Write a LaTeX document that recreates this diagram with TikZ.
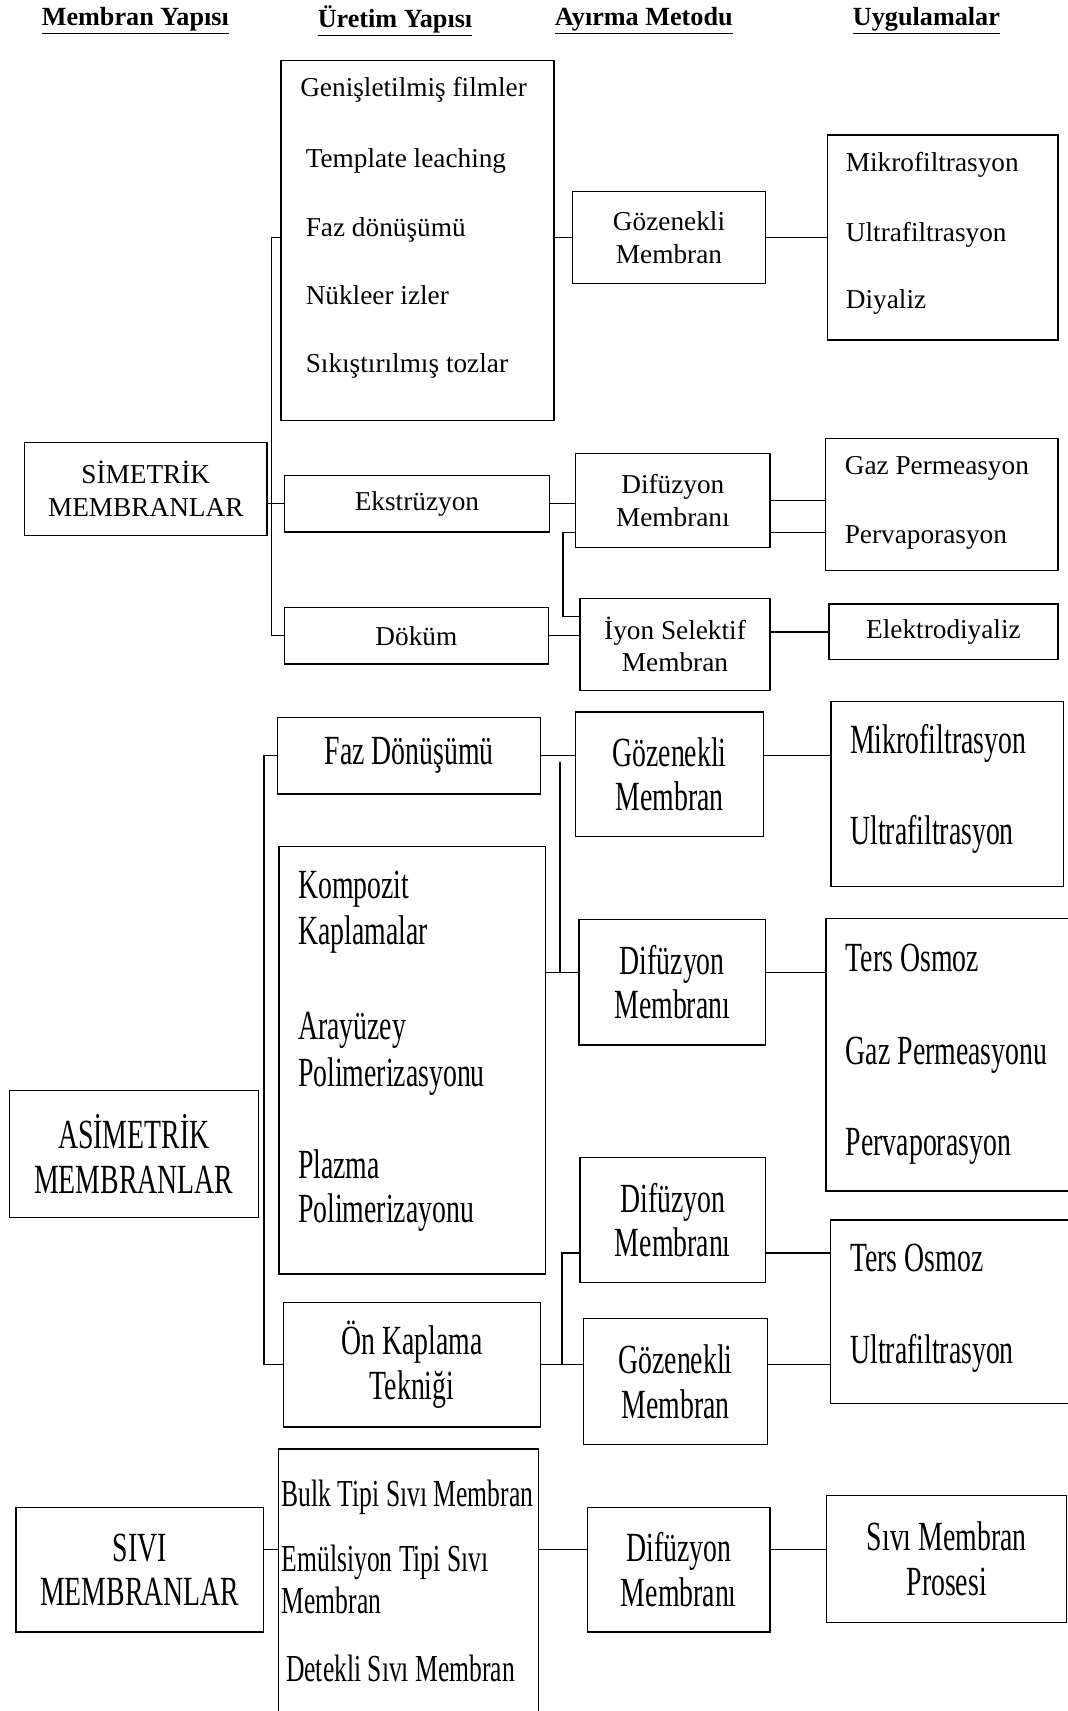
\documentclass[tikz,border=0pt]{standalone}
\usepackage{fontspec}
\setmainfont{Liberation Serif}
\newfontfamily\narrowserif[FakeStretch=0.67]{Liberation Serif}
\usetikzlibrary{calc}

\begin{document}
\begin{tikzpicture}[x=1pt,y=-1pt,
  box/.style={draw,line width=1.2pt,inner sep=0pt,anchor=north west,align=center},
  openbox/.style={inner sep=0pt,anchor=north west},
  edge/.style={line width=1.2pt},
  head/.style={font=\fontsize{24}{28}\selectfont\bfseries,inner sep=0pt},
  plain/.style={font=\fontsize{25}{30}\selectfont},
  plainbig/.style={font=\fontsize{25}{30}\selectfont},
  tall/.style={font=\narrowserif\fontsize{38}{41}\selectfont},
  listfont/.style={font=\narrowserif\fontsize{35}{40}\selectfont},
  item/.style={anchor=mid west,inner sep=0pt},
]
\useasboundingbox (0,0) rectangle (978,1568);

% column headings
\node[head] (h1) at (124,19) {\underline{Membran Yapısı}};
\node[head] (h2) at (362,19) {\underline{Üretim Yapısı}};
\node[head] (h3) at (590,19) {\underline{Ayırma Metodu}};
\node[head] (h4) at (849,19) {\underline{Uygulamalar}};

% ---------------- symmetric membranes ----------------
\node[box,plainbig,minimum width=222pt,minimum height=85pt] (sim) at (22,405) {SİMETRİK\\MEMBRANLAR};

\node[box,minimum width=250pt,minimum height=330pt] (prodA) at (257,55) {};
\node[item,plain] (pa1) at (275,86) {Genişletilmiş filmler};
\node[item,plain] (pa2) at (280,151) {Template leaching};
\node[item,plain] (pa3) at (280,214) {Faz dönüşümü};
\node[item,plain] (pa4) at (280,277) {Nükleer izler};
\node[item,plain] (pa5) at (280,339) {Sıkıştırılmış tozlar};

\node[box,plain,minimum width=243pt,minimum height=52pt] (ekst) at (260,435) {Ekstrüzyon};
\node[box,plain,minimum width=242pt,minimum height=52pt] (dokum) at (260,556) {Döküm};

\node[box,plain,minimum width=177pt,minimum height=84pt] (gozA) at (524,175) {Gözenekli\\Membran};
\node[box,plain,minimum width=178pt,minimum height=86pt] (difA) at (527,415) {Difüzyon\\Membranı};
\node[box,plain,minimum width=174pt,minimum height=84pt] (iyon) at (531,548) {İyon Selektif\\Membran};

\node[box,minimum width=211pt,minimum height=188pt] (appA) at (758,123) {};
\node[item,plain] (aa1) at (775,155) {Mikrofiltrasyon};
\node[item,plain] (aa2) at (775,219) {Ultrafiltrasyon};
\node[item,plain] (aa3) at (775,280) {Diyaliz};

\node[box,minimum width=213pt,minimum height=121pt] (appB) at (756,401) {};
\node[item,plain] (ab1) at (774,433) {Gaz Permeasyon};
\node[item,plain] (ab2) at (774,496) {Pervaporasyon};

\node[box,plain,minimum width=210pt,minimum height=51pt] (elek) at (759,553) {Elektrodiyaliz};

% connectors
\draw[edge] (ekst.west -| sim.east) -- (ekst.west);
\draw[edge] (prodA.west |- gozA.west) -- ++(-8,0) |- (dokum.west);
\draw[edge] (prodA.east |- gozA.west) -- (gozA.west);
\draw[edge] (ekst.east) -- (ekst.east -| difA.west);
\draw[edge] (dokum.east) -- (dokum.east -| iyon.west);
\coordinate (dA) at ($(difA.south west)+(0,-14)$);
\coordinate (iA) at ($(iyon.north west)+(0,17)$);
\draw[edge] (dA) -- ++(-11,0) |- (iA);
\draw[edge] (gozA.east) -- (gozA.east -| appA.west);
\draw[edge] (difA.east) -- (difA.east -| appB.west);
\coordinate (dB) at ($(difA.south east)+(0,-14)$);
\draw[edge] (dB) -- (dB -| appB.west);
\draw[edge] (elek.west -| iyon.east) -- (elek.west);

% ---------------- asymmetric membranes ----------------
\node[box,tall,minimum width=228pt,minimum height=116pt] (asim) at (8,999) {ASİMETRİK\\MEMBRANLAR};

\node[box,tall,minimum width=241pt,minimum height=70pt] (fazD) at (254,657) {Faz Dönüşümü};

\node[box,minimum width=244pt,minimum height=392pt] (komp) at (255,775) {};
\node[item,tall] (kb1) at (273,821) {Kompozit};
\node[item,tall] (kb2) at (273,863) {Kaplamalar};
\node[item,tall] (kb3) at (273,950) {Arayüzey};
\node[item,tall] (kb4) at (273,993) {Polimerizasyonu};
\node[item,tall] (kb5) at (273,1078) {Plazma};
\node[item,tall] (kb6) at (273,1118) {Polimerizayonu};

\node[box,tall,minimum width=236pt,minimum height=114pt] (onk) at (259,1193) {Ön Kaplama\\Tekniği};

\node[box,tall,minimum width=172pt,minimum height=114pt] (gozB) at (527,652) {Gözenekli\\Membran};
\node[box,tall,minimum width=171pt,minimum height=115pt] (difB) at (530,842) {Difüzyon\\Membranı};
\node[box,tall,minimum width=170pt,minimum height=115pt] (difC) at (531,1060) {Difüzyon\\Membranı};
\node[box,tall,minimum width=169pt,minimum height=115pt] (gozC) at (534,1208) {Gözenekli\\Membran};

\node[box,minimum width=213pt,minimum height=170pt] (appC) at (761,642) {};
\node[item,tall] (ac1) at (779,688) {Mikrofiltrasyon};
\node[item,tall] (ac2) at (779,772) {Ultrafiltrasyon};

% the two right-hand boxes run off the right edge
\node[openbox,minimum width=221pt,minimum height=249pt] (appD) at (757,842) {};
\draw[edge] (appD.north east) -- (appD.north west) -- (appD.south west) -- (appD.south east);
\node[item,tall] (ad1) at (775,888) {Ters Osmoz};
\node[item,tall] (ad2) at (775,973) {Gaz Permeasyonu};
\node[item,tall] (ad3) at (775,1057) {Pervaporasyon};

\node[openbox,minimum width=217pt,minimum height=168pt] (appE) at (761,1118) {};
\draw[edge] (appE.north east) -- (appE.north west) -- (appE.south west) -- (appE.south east);
\node[item,tall] (ae1) at (779,1163) {Ters Osmoz};
\node[item,tall] (ae2) at (779,1247) {Ultrafiltrasyon};

% connectors
\draw[edge] (fazD.west) -- ++(-12,0) |- (onk.west);
\draw[edge] (fazD.east) -- (fazD.east -| gozB.west);
\coordinate (kY) at ($(difB.south west)+(0,-67)$);
\draw[edge] (komp.east |- kY) -- (kY);
\coordinate (jB) at ($(fazD.east)+(17,6)$);
\draw[edge] (jB) -- (jB |- kY);
\draw[edge] (onk.east) -- (onk.east -| gozC.west);
\coordinate (dC) at ($(difC.south west)+(0,-28)$);
\draw[edge] (dC) -- ++(-16,0) coordinate (dCl) -- (dCl |- onk.east);
\draw[edge] (gozB.east |- fazD.east) -- (appC.west |- fazD.east);
\draw[edge] (difB.east |- kY) -- (appD.west |- kY);
\draw[edge] (difC.east |- dC) -- (appE.west |- dC);
\draw[edge] (gozC.east |- onk.east) -- (appE.west |- onk.east);

% ---------------- liquid membranes ----------------
\node[box,tall,minimum width=227pt,minimum height=114pt] (sivi) at (14,1381) {SIVI\\MEMBRANLAR};

\node[openbox,minimum width=238pt,minimum height=240pt] (liste) at (255,1328) {};
\draw[edge] (liste.south west) -- (liste.north west) -- (liste.north east) -- (liste.south east);
\node[item,listfont] (lc1) at (258,1378) {Bulk Tipi Sıvı Membran};
\node[item,listfont] (lc2) at (258,1438) {Emülsiyon Tipi Sıvı};
\node[item,listfont] (lc3) at (258,1476) {Membran};
\node[item,listfont] (lc4) at (262,1539) {Detekli Sıvı Membran};

\node[box,tall,minimum width=167pt,minimum height=114pt] (difD) at (538,1381) {Difüzyon\\Membranı};
\node[box,tall,minimum width=220pt,minimum height=116pt] (proses) at (757,1370) {Sıvı Membran\\Prosesi};

\coordinate (sY) at (0,1420);
\draw[edge] (sivi.east |- sY) -- (liste.west |- sY);
\draw[edge] (liste.east |- sY) -- (difD.west |- sY);
\draw[edge] (difD.east |- sY) -- (proses.west |- sY);
\end{tikzpicture}
\end{document}
